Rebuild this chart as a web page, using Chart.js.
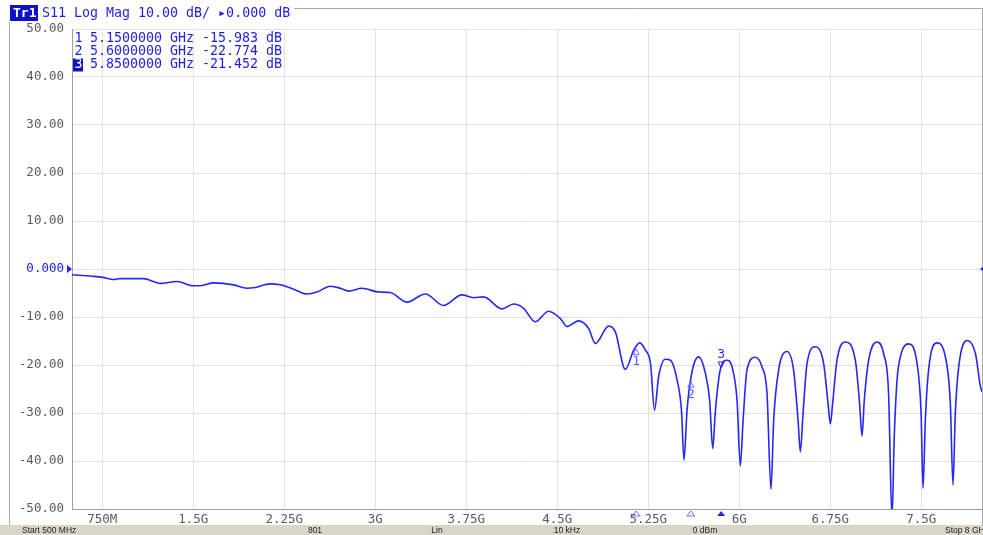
<!DOCTYPE html>
<html>
<head>
<meta charset="utf-8">
<script src="https://cdn.jsdelivr.net/npm/chart.js@4"></script>
<style>
  body { margin: 0; background: #fff; }
  canvas { display: block; }
</style>
</head>
<body>
<canvas id="vna" width="983" height="535"></canvas>
<script>
// trace: frequency (GHz) and S11 (dB)
const freqGHz = [
    0.500, 0.665, 0.747, 0.843, 0.898, 1.090, 1.228, 1.365, 1.502, 1.557,
    1.667, 1.832, 1.942, 1.997, 2.134, 2.217, 2.326, 2.437, 2.519, 2.629,
    2.711, 2.780, 2.890, 3.027, 3.123, 3.261, 3.412, 3.563, 3.714, 3.810,
    3.892, 4.044, 4.140, 4.222, 4.318, 4.428, 4.524, 4.580, 4.675, 4.758,
    4.813, 4.923, 4.978, 5.060, 5.130, 5.179, 5.226, 5.268, 5.301, 5.335,
    5.390, 5.432, 5.487, 5.523, 5.544, 5.569, 5.610, 5.664, 5.720, 5.755,
    5.781, 5.802, 5.843, 5.899, 5.940, 5.981, 6.008, 6.031, 6.063, 6.132,
    6.187, 6.228, 6.261, 6.283, 6.324, 6.393, 6.447, 6.484, 6.503, 6.525,
    6.558, 6.626, 6.695, 6.731, 6.750, 6.769, 6.805, 6.874, 6.956, 6.991,
    7.011, 7.030, 7.066, 7.135, 7.189, 7.230, 7.258, 7.277, 7.300, 7.327,
    7.395, 7.465, 7.498, 7.514, 7.533, 7.560, 7.629, 7.698, 7.739, 7.761,
    7.780, 7.808, 7.877, 7.946, 7.987, 8.000
];
const s11dB = [
    -1.2, -1.5, -1.7, -2.2, -2.0, -2.0, -3.0, -2.6, -3.5, -3.5,
    -2.9, -3.3, -4.0, -3.9, -3.1, -3.3, -4.2, -5.2, -4.8, -3.6,
    -4.0, -4.6, -4.0, -4.8, -4.9, -6.9, -5.2, -7.6, -5.4, -6.0,
    -5.8, -8.3, -7.3, -8.2, -11.0, -8.8, -10.3, -12.0, -10.8, -12.4,
    -15.5, -11.9, -13.1, -20.9, -16.9, -15.4, -16.9, -19.7, -29.4, -22.4,
    -18.8, -19.0, -23.1, -29.4, -39.8, -29.4, -21.4, -18.3, -21.7, -27.3,
    -37.4, -29.8, -21.0, -19.0, -20.4, -27.3, -41.0, -31.5, -21.0, -18.4,
    -20.4, -25.9, -45.9, -31.5, -21.0, -17.2, -21.0, -31.5, -38.1, -30.1,
    -19.7, -16.2, -19.7, -28.0, -32.3, -28.0, -19.0, -15.2, -19.0, -28.0,
    -34.8, -27.3, -19.0, -15.2, -17.6, -25.9, -52.0, -34.9, -23.1, -18.3,
    -15.6, -19.7, -30.1, -45.7, -31.5, -21.0, -15.4, -18.3, -28.0, -45.0,
    -30.1, -20.4, -14.9, -17.6, -24.5, -25.6
];

const xTickValues = [0.75, 1.5, 2.25, 3, 3.75, 4.5, 5.25, 6, 6.75, 7.5];
const xTickLabels = ['750M', '1.5G', '2.25G', '3G', '3.75G', '4.5G', '5.25G', '6G', '6.75G', '7.5G'];

const markerNums = [1, 2, 3];
const markerFreqs = [5.15, 5.6, 5.85];
const markerValues = [-15.983, -22.774, -21.452];
const activeMarker = 3;

const headerText = 'S11 Log Mag 10.00 dB/ \u25B80.000 dB';
const statusTexts = ['Start 500 MHz', '801', 'Lin', '10 kHz', '0 dBm', 'Stop 8 GHz'];

const blue = 'rgb(38, 38, 250)';
const textBlue = 'rgb(30, 30, 230)';
const mono = '"DejaVu Sans Mono", monospace';

function triangle(c, x, tipY, baseY, half, filled) {
    c.beginPath();
    c.moveTo(x, tipY);
    c.lineTo(x - half, baseY);
    c.lineTo(x + half, baseY);
    c.closePath();
    if (filled) c.fill(); else c.stroke();
}

const vnaDecor = {
    id: 'vnaDecor',
    beforeDraw(chart) {
        const c = chart.ctx;
        c.save();
        c.fillStyle = '#fff';
        c.fillRect(0, 0, chart.width, chart.height);
        c.restore();
    },
    afterDraw(chart) {
        const c = chart.ctx;
        const xs = chart.scales.x;
        const ys = chart.scales.y;
        const area = chart.chartArea;
        c.save();

        // outer frame
        c.strokeStyle = '#a8a8a8';
        c.lineWidth = 1;
        c.beginPath();
        c.moveTo(9.5, 22);
        c.lineTo(9.5, 525);
        c.moveTo(294, 8.5);
        c.lineTo(982.5, 8.5);
        c.lineTo(982.5, 525);
        c.stroke();

        // header
        c.fillStyle = '#1010c8';
        c.fillRect(10, 5, 28, 16);
        c.font = 'bold 13px ' + mono;
        c.fillStyle = '#fff';
        c.textBaseline = 'middle';
        c.textAlign = 'left';
        c.fillText('Tr1', 13, 13.5);
        c.font = '13.3px ' + mono;
        c.fillStyle = textBlue;
        c.fillText(headerText, 42, 13.5);

        // marker table
        markerNums.forEach((n, i) => {
            const ty = 39 + i * 13;
            const line = `${markerFreqs[i].toFixed(7)} GHz ${markerValues[i].toFixed(3)} dB`;
            if (n === activeMarker) {
                c.fillStyle = '#1010c8';
                c.fillRect(73, ty - 6.5, 10, 13);
                c.fillStyle = '#fff';
            } else {
                c.fillStyle = textBlue;
            }
            c.fillText(String(n), 74.5, ty);
            c.fillStyle = textBlue;
            c.fillText(line, 90, ty);
        });

        // reference level arrows
        const y0 = ys.getPixelForValue(0);
        c.fillStyle = blue;
        c.beginPath();
        c.moveTo(area.left, y0);
        c.lineTo(area.left - 5, y0 - 4);
        c.lineTo(area.left - 5, y0 + 4);
        c.closePath();
        c.fill();
        c.beginPath();
        c.moveTo(area.right - 2, y0);
        c.lineTo(area.right + 2, y0 - 3);
        c.lineTo(area.right + 2, y0 + 3);
        c.closePath();
        c.fill();

        // markers on the trace and below the grid
        c.lineWidth = 1;
        c.textAlign = 'center';
        c.font = '13px ' + mono;
        markerNums.forEach((n, i) => {
            const px = xs.getPixelForValue(markerFreqs[i]);
            const py = ys.getPixelForValue(markerValues[i]);
            const active = n === activeMarker;
            c.strokeStyle = active ? blue : 'rgb(110, 110, 250)';
            c.fillStyle = active ? blue : 'rgb(90, 90, 240)';
            if (active) {
                triangle(c, px, py - 4, py - 10, 3, false);
                c.fillText(String(n), px, py - 17);
                triangle(c, px, area.bottom + 2, area.bottom + 7, 4, true);
            } else {
                triangle(c, px, py + 3, py + 9, 3, false);
                c.fillText(String(n), px, py + 16);
                triangle(c, px, area.bottom + 2, area.bottom + 7, 4, false);
            }
        });

        // status bar
        c.fillStyle = '#d9d5c9';
        c.fillRect(0, 525, chart.width, 10);
        c.fillStyle = '#222';
        c.font = '8.5px "Liberation Sans", sans-serif';
        c.textBaseline = 'middle';
        const statusX = [22, 315, 437, 567, 705, 945];
        statusTexts.forEach((t, i) => {
            c.textAlign = (i === 0 || i === statusTexts.length - 1) ? 'left' : 'center';
            c.fillText(t, statusX[i], 530.5);
        });

        c.restore();
    }
};

const points = freqGHz.map((f, i) => ({ x: f, y: s11dB[i] }));

const ctx = document.getElementById('vna').getContext('2d');
// eslint-disable-next-line no-undef
new Chart(ctx, {
    type: 'line',
    data: {
        datasets: [{
            label: 'S11',
            data: points,
            borderColor: blue,
            borderWidth: 1.6,
            pointRadius: 0,
            fill: false,
            cubicInterpolationMode: 'monotone'
        }]
    },
    options: {
        responsive: false,
        animation: false,
        devicePixelRatio: 1,
        layout: { padding: { top: 29, right: 1, left: 0, bottom: 0 } },
        plugins: {
            legend: { display: false },
            tooltip: { enabled: false }
        },
        scales: {
            x: {
                type: 'linear',
                min: 0.5,
                max: 8,
                afterBuildTicks: scale => {
                    scale.ticks = xTickValues.map(v => ({ value: v }));
                },
                afterFit: scale => { scale.height = 26; },
                ticks: {
                    callback: (v, i) => xTickLabels[i],
                    color: '#5a5a5a',
                    font: { family: mono, size: 12.5 },
                    padding: 3,
                    maxRotation: 0,
                    autoSkip: false
                },
                grid: { color: '#e2e2e2', drawTicks: false },
                border: { color: '#a0a0a0' }
            },
            y: {
                min: -50,
                max: 50,
                afterFit: scale => { scale.width = 72; },
                ticks: {
                    stepSize: 10,
                    callback: v => (v === 0 ? '0.000' : v.toFixed(2)),
                    color: c => (c.tick && c.tick.value === 0 ? textBlue : '#5a5a5a'),
                    font: { family: mono, size: 12.5 },
                    padding: 8
                },
                grid: { color: '#e2e2e2', drawTicks: false },
                border: { color: '#a0a0a0' }
            }
        }
    },
    plugins: [vnaDecor]
});
</script>
</body>
</html>
